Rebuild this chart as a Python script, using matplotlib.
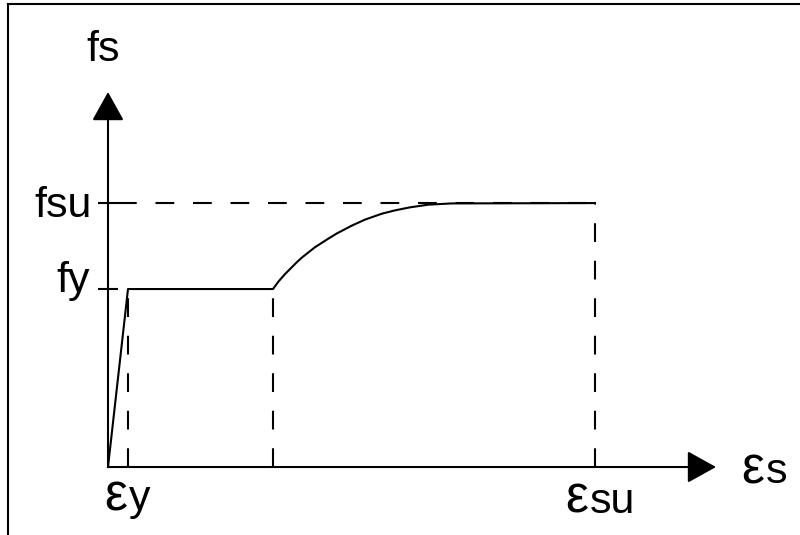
import matplotlib
matplotlib.use("Agg")
import matplotlib.pyplot as plt
from matplotlib.lines import Line2D

plt.rcParams['font.family'] = ['Liberation Sans', 'DejaVu Sans']

# idealised stress-strain curve for reinforcing steel (normalised units)
eps_y = 1.0
eps_sh = 8.25
eps_su = 24.35
fy = 1.0
fsu = 1.483

curve_strain = [0, 1.0, 8.25, 8.515, 8.85, 9.435, 9.685, 10.35, 11.015, 11.435,
                12.185, 12.85, 13.685, 14.35, 15.10, 16.015, 17.185, 24.35]
curve_stress = [0, 1.0, 1.0, 1.041, 1.084, 1.150, 1.176, 1.235, 1.283, 1.312,
                1.356, 1.390, 1.423, 1.442, 1.459, 1.474, 1.481, 1.483]

x_tip = 30.4
y_tip = 2.107

fig = plt.figure(figsize=(8, 5.35), dpi=100)
ax = fig.add_axes([0, 0, 1, 1])
ax.set_xlim(-5.4, 34.6)
ax.set_ylim(-0.382, 2.624)
ax.axis('off')

lw = 1.5
dash = (0, (9, 9))

# axes with arrow heads
arrow = dict(arrowstyle='-|>,head_length=18,head_width=10', mutation_scale=1,
             color='black', lw=lw, shrinkA=0, shrinkB=0)
ax.annotate('', xy=(x_tip, 0), xytext=(0, 0), arrowprops=arrow)
ax.annotate('', xy=(0, y_tip), xytext=(0, 0), arrowprops=arrow)

# tick marks on stress axis
for f in (fy, fsu):
    ax.plot([-0.5, 0.5], [f, f], color='black', lw=lw, solid_capstyle='butt')

# dashed guide lines
ax.plot([0.5, eps_su], [fsu, fsu], color='black', lw=lw, linestyle=dash)
for e, f in ((eps_y, fy), (eps_sh, fy), (eps_su, fsu)):
    ax.plot([e, e], [0, f], color='black', lw=lw, linestyle=dash)

# the stress-strain curve
ax.plot(curve_strain, curve_stress, color='black', lw=lw, solid_joinstyle='round')

fs = 31
fs_eps = 37
ax.text(-0.25, 2.28, 'fs', fontsize=fs, ha='center', va='baseline')
ax.text(-0.8, 1.404, 'fsu', fontsize=fs, ha='right', va='baseline')
ax.text(-0.9, 0.983, 'fy', fontsize=fs, ha='right', va='baseline')


def strain_label(x, y, sub, dx):
    # larger epsilon followed by its subscript letters
    ax.annotate('ε', xy=(x, y), xytext=(dx - 0.7, 0), textcoords='offset points',
                fontsize=fs_eps, ha='right', va='baseline')
    ax.annotate(sub, xy=(x, y), xytext=(dx + 0.7, 0), textcoords='offset points',
                fontsize=fs, ha='left', va='baseline')


strain_label(eps_y, -0.242, 'y', 0)
strain_label(eps_su, -0.258, 'su', -4.3)
strain_label(x_tip, -0.09, 's', 35)

# frame edges
fig.add_artist(Line2D([7.5 / 800, 1], [1 - 3.5 / 535] * 2, color='black', lw=1.5,
                      transform=fig.transFigure))
fig.add_artist(Line2D([7.5 / 800] * 2, [0, 1 - 3.5 / 535], color='black', lw=1.5,
                      transform=fig.transFigure))

fig.savefig('out.png', dpi=100)
